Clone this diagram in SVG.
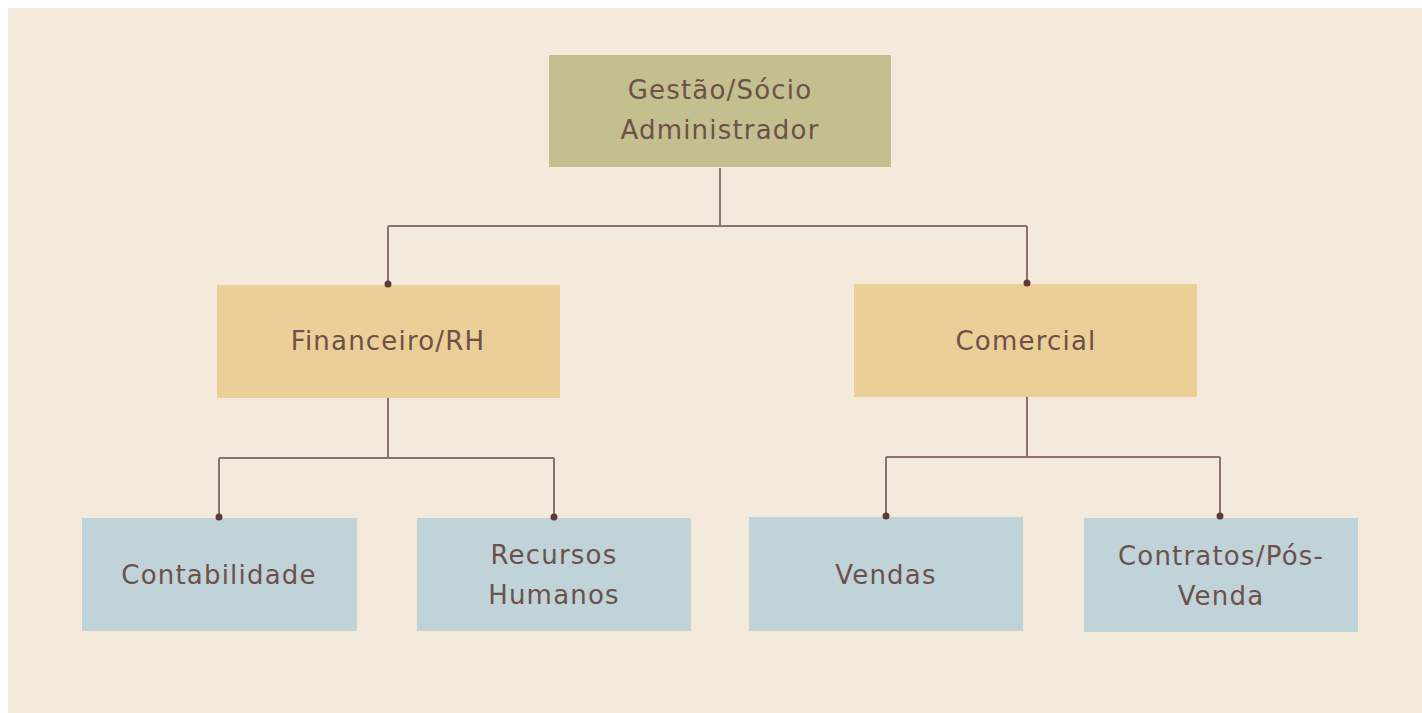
<svg xmlns="http://www.w3.org/2000/svg" width="1422" height="713" viewBox="0 0 1422 713">
<style>
.t{font-family:"DejaVu Sans","Liberation Sans",sans-serif;font-size:26px;letter-spacing:1.2px;fill:#6e504b;text-anchor:middle}
.l{fill:none;stroke:#8c726c;stroke-width:2}
.d{fill:#5e3a35}
</style>
<rect width="1422" height="713" fill="#ffffff"/>
<rect x="8" y="8" width="1414" height="705" fill="#f3eadc"/>
<g id="gestao">
<rect x="549" y="55" width="342" height="112" fill="#c3bf8e"/>
<text class="t" x="720" y="99">Gestão/Sócio</text>
<text class="t" x="720" y="139">Administrador</text>
</g>
<g id="financeiro">
<rect x="217" y="285" width="343" height="113" fill="#eacf97"/>
<text class="t" x="388" y="350">Financeiro/RH</text>
</g>
<g id="comercial">
<rect x="854" y="284" width="343" height="113" fill="#eacf97"/>
<text class="t" x="1026" y="350">Comercial</text>
</g>
<g id="contabilidade">
<rect x="82" y="518" width="275" height="113" fill="#bfd3d8"/>
<text class="t" x="219" y="584">Contabilidade</text>
</g>
<g id="recursos">
<rect x="417" y="518" width="274" height="113" fill="#bfd3d8"/>
<text class="t" x="554" y="564">Recursos</text>
<text class="t" x="554" y="604">Humanos</text>
</g>
<g id="vendas">
<rect x="749" y="517" width="274" height="114" fill="#bfd3d8"/>
<text class="t" x="886" y="584">Vendas</text>
</g>
<g id="contratos">
<rect x="1084" y="518" width="274" height="114" fill="#bfd3d8"/>
<text class="t" x="1221" y="565">Contratos/Pós-</text>
<text class="t" x="1221" y="605">Venda</text>
</g>
<g id="connectors">
<path class="l" d="M720 168V226M388 226H1027M388 226V284M1027 226V283"/>
<path class="l" d="M388 398V458M219 458H554M219 458V517M554 458V517"/>
<path class="l" d="M1027 397V457M886 457H1220M886 457V516M1220 457V516"/>
<circle class="d" cx="388" cy="284" r="3.5"/>
<circle class="d" cx="1027" cy="283" r="3.5"/>
<circle class="d" cx="219" cy="517" r="3.5"/>
<circle class="d" cx="554" cy="517" r="3.5"/>
<circle class="d" cx="886" cy="516" r="3.5"/>
<circle class="d" cx="1220" cy="516" r="3.5"/>
</g>
</svg>
